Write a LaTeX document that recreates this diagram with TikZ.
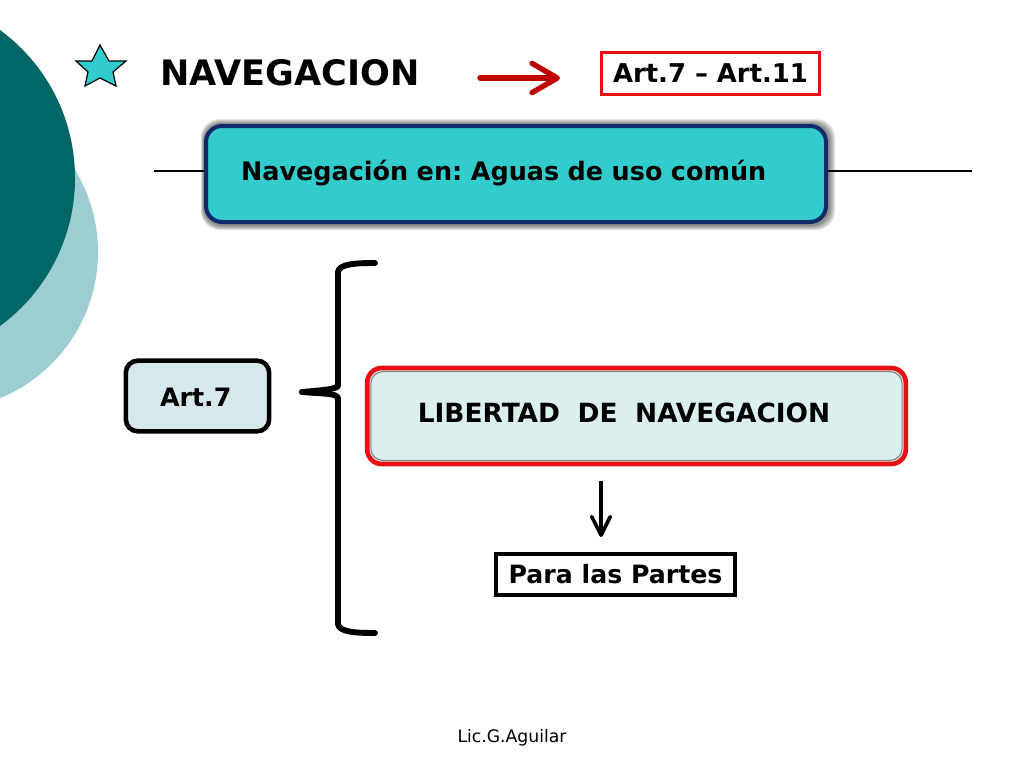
\documentclass[tikz,border=0pt]{standalone}
\usepackage{fontspec}
\setmainfont{DejaVu Sans}
\usetikzlibrary{arrows.meta}

\definecolor{tealdark}{HTML}{006666}
\definecolor{teallight}{HTML}{9CCDD0}
\definecolor{topicfill}{HTML}{33CCCC}
\definecolor{topicline}{HTML}{0F2A6B}
\definecolor{artfill}{HTML}{D6E8EC}
\definecolor{libfill}{HTML}{DCEFEF}
\definecolor{redline}{HTML}{E60F14}
\definecolor{arrowred}{HTML}{C00000}

\tikzset{
  boxtext/.style={font=\fontsize{#1}{22}\selectfont\bfseries, inner sep=0pt},
  plainbox/.style={boxtext=#1, draw, line width=2.6pt, align=center},
}

\begin{document}
\frenchspacing
\begin{tikzpicture}[x=0.75pt,y=-0.75pt]
\useasboundingbox (0,0) rectangle (1024,768);
\begin{scope}
\clip (0,0) rectangle (1024,768);
\fill[teallight] (-60,252) circle (158);
\fill[tealdark] (-108.5,178) circle (183.5);
\end{scope}

% star and title
\draw[fill=topicfill, line width=0.9pt] (100,45) -- (109,61) -- (126,61) -- (113,72) -- (116,86) -- (100,78) -- (85,86) -- (88,72) -- (76,61) -- (92,61) -- cycle;
\node[boxtext=26.3, anchor=base west] (title) at (160,85) {NAVEGACION};

% articles
\coordinate (arrowstart) at (480,78);
\coordinate (arrowend) at (560,78);
\node[plainbox=19.4, draw=redline, line width=2.25pt, minimum width=164pt, minimum height=31pt] (range) at (710.5,73.5) {Art.7 -- Art.11};
\draw[-{Straight Barb[length=19pt,width=22pt,line width=4pt,round]}, arrowred, line width=4pt, line cap=round] (arrowstart) -- (arrowend);

% shadow of the topic box
\foreach \g in {1,...,5}
  \fill[black, opacity=0.11, rounded corners=14pt] (204-0.6*\g,124-\g) rectangle (829+1.2*\g,225+\g);
\node[boxtext=19.1, draw=topicline, fill=topicfill, line width=3pt, rounded corners=12pt, minimum width=465pt, minimum height=72pt, text width=412.5pt, text height=9pt, text depth=-3pt, align=left] (topic) at (516,174) {Navegación en: Aguas de uso común};
\coordinate (lineleft) at (154,171);
\coordinate (lineright) at (972,171);
\draw[line width=0.9pt] (lineleft) -- (lineleft -| topic.west);
\draw[line width=0.9pt] (lineright -| topic.east) -- (lineright);

% left side
\node[boxtext=19, draw, fill=artfill, line width=3.4pt, rounded corners=9pt, minimum width=107.5pt, minimum height=53pt, text width=56.2pt, text height=15.2pt, text depth=0pt, align=left] (art) at (197.5,396) {Art.7};
\draw[line width=4.4pt, line cap=round, line join=round] (375,263) .. controls (355,263) and (339,264) .. (338,272) -- (338,386) .. controls (336,389) and (325,390) .. (302,392);
\draw[line width=4.4pt, line cap=round, line join=round] (302,392) .. controls (325,394) and (336,393) .. (338,398) -- (338,624) .. controls (339,632) and (355,633) .. (375,633);

% right side
\node[boxtext=19.8, draw=redline, fill=libfill, line width=3.5pt, rounded corners=11pt, minimum width=404pt, minimum height=72pt, text width=328pt, text height=9pt, text depth=-3pt, align=left] (freedom) at (636.5,416) {LIBERTAD\ \ DE\ \ NAVEGACION};
\draw[gray, line width=0.8pt, rounded corners=9pt] ([shift={(6,6)}]freedom.north west) rectangle ([shift={(-6,-6)}]freedom.south east);
\node[plainbox=18.9, minimum width=179.5pt, minimum height=31pt] (parties) at (615.5,574.5) {Para las Partes};
\coordinate (downstart) at (601,481);
\coordinate (downend) at (601,537);
\draw[-{Straight Barb[length=14pt,width=14pt,line width=2.7pt,round]}, line width=2.7pt] (downstart) -- (downend);

% footer
\node[font=\fontsize{12.9}{15}\selectfont, inner sep=0pt, anchor=base] (footer) at (512,742) {Lic.G.Aguilar};
\end{tikzpicture}
\end{document}
